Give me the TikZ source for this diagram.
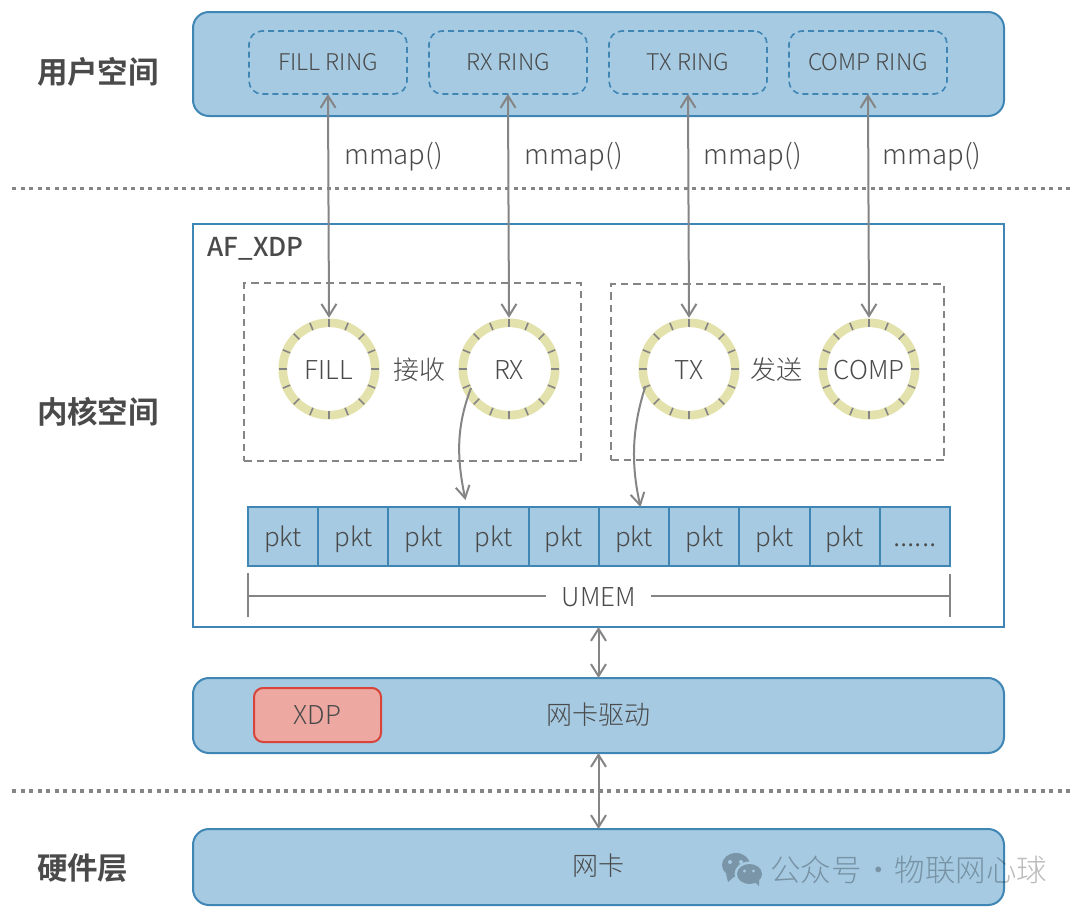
\documentclass[tikz,border=0pt]{standalone}
\usepackage{fontspec}
\setmainfont{Noto Sans CJK SC Light}[BoldFont={Noto Sans CJK SC Bold}]
\newfontfamily\mediumfont{Noto Sans CJK SC Medium}
\usetikzlibrary{arrows.meta,calc}
\definecolor{panel}{HTML}{A5CAE2}
\definecolor{edge}{HTML}{3F86B5}
\definecolor{ink}{HTML}{4A4A4A}
\definecolor{conn}{HTML}{858585}
\definecolor{ringc}{HTML}{E4E2AC}
\definecolor{xdpfill}{HTML}{EDA9A1}
\definecolor{xdpedge}{HTML}{D8433A}
\definecolor{wmicon}{HTML}{7A95A8}
\newcommand{\fs}[1]{\fontsize{#1}{#1}\selectfont}
\tikzset{
  x=1pt,y=-1pt,
  every node/.style={text=ink,font=\fs{26},inner sep=0pt,outer sep=0pt},
  panelbox/.style={draw=edge,fill=panel,line width=2pt,rounded corners=16pt,anchor=north west},
  ringbox/.style={draw=edge,line width=1.6pt,dash pattern=on 6pt off 4pt,rounded corners=13pt,minimum width=158pt,minimum height=63pt,font=\fs{23}},
  groupbox/.style={draw=conn,line width=1.8pt,dash pattern=on 7.5pt off 5pt,anchor=north west},
  ringnode/.style={circle,draw=ringc,line width=8.6pt,outer sep=5pt,minimum size=92.4pt,text height=21pt,text depth=0pt},
  cell/.style={draw=edge,fill=panel,line width=2pt,minimum width=70.2pt,minimum height=59pt,anchor=north west,text height=20pt,text depth=1pt},
  heading/.style={font=\fs{30.5}\bfseries,anchor=west},
  mmaplabel/.style={font=\fs{27.5}},
  dualarrow/.style={draw=conn,line width=2pt,{Straight Barb[length=12pt,width=15pt]}-{Straight Barb[length=12pt,width=15pt]}},
  onearrow/.style={draw=conn,line width=2pt,-{Straight Barb[length=12pt,width=14pt]}},
  sep/.style={draw=conn,line width=3.6pt,dash pattern=on 4pt off 4.5pt},
  tick/.style={draw=conn,line width=1.6pt},
  rule/.style={draw=conn,line width=1.8pt},
}
\newcommand{\ringticks}[1]{\foreach \a in {0,22.5,45,67.5,90,112.5,135,157.5,180,202.5,225,247.5,270,292.5,315,337.5}{\draw[tick] ($(#1)+(\a:42)$) -- ($(#1)+(\a:50)$);}}
\begin{document}
\begin{tikzpicture}
\useasboundingbox (0,0) rectangle (1080,913);
\fill[white] (0,0) rectangle (1080,913);
% separators
\coordinate (s1a) at (12,188.5); \coordinate (s1b) at (1070,188.5);
\coordinate (s2a) at (12,791); \coordinate (s2b) at (1070,791);
\draw[sep] (s1a) -- (s1b);
\draw[sep] (s2a) -- (s2b);
% panels
\node[panelbox,minimum width=811pt,minimum height=104pt] (user) at (193,12) {};
\node[draw=edge,line width=2pt,fill=white,anchor=north west,minimum width=811pt,minimum height=403pt] (kernel) at (193,224) {};
\node[panelbox,minimum width=811pt,minimum height=75pt] (driver) at (193,678) {};
\node[panelbox,minimum width=811pt,minimum height=76pt] (nic) at (193,829) {};
% headings
\node[heading] (h1) at (37,72) {用户空间};
\node[heading] (h2) at (37,412) {内核空间};
\node[heading] (h3) at (37,868) {硬件层};
\node[anchor=west,font=\fs{26}\mediumfont] (af) at (207.5,249) {AF\_XDP};
% rings in user space
\node[ringbox] (r1) at (328,62.5) {FILL RING};
\node[ringbox] (r2) at (508,62.5) {RX RING};
\node[ringbox] (r3) at (688,62.5) {TX RING};
\node[ringbox] (r4) at (868,62.5) {COMP RING};
% groups
\node[groupbox,minimum width=337pt,minimum height=178pt] (g1) at (244,283) {};
\node[groupbox,minimum width=333pt,minimum height=176pt] (g2) at (611,284) {};
% kernel rings
\node[ringnode] (c1) at (329,369) {FILL};
\node[ringnode] (c2) at (509,369) {RX};
\node[ringnode] (c3) at (689,369) {TX};
\node[ringnode] (c4) at (869,369) {COMP};
\ringticks{c1}\ringticks{c2}\ringticks{c3}\ringticks{c4}
\node (recv) at (419,370) {接收};
\node (send) at (776,370) {发送};
% mmap
\node[mmaplabel] (m1) at (393.5,157) {mmap()};
\node[mmaplabel] (m2) at (573.5,157) {mmap()};
\node[mmaplabel] (m3) at (752.5,157) {mmap()};
\node[mmaplabel] (m4) at (932,157) {mmap()};
% packets
\foreach \i in {0,...,8}{
  \node[cell] (p\i) at ({248+70.2*\i},507) {pkt};
}
\node[cell,font=\fs{29}] (p9) at ({248+70.2*9},507) {......};
% UMEM
\coordinate (ul) at (248,596); \coordinate (ur) at (950,596);
\coordinate (ula) at (546,596); \coordinate (ura) at (651,596);
\coordinate (ult) at (248,573); \coordinate (ulb) at (248,617);
\coordinate (urt) at (950,574); \coordinate (urb) at (950,617);
\node (umem) at (599,597) {UMEM};
\draw[rule] (ul) -- (ula);
\draw[rule] (ura) -- (ur);
\draw[rule] (ult) -- (ulb);
\draw[rule] (urt) -- (urb);
% driver
\node[draw=xdpedge,fill=xdpfill,line width=2pt,rounded corners=9pt,minimum width=127pt,minimum height=54pt] (xdp) at (317.5,715) {XDP};
\node (drv) at (598.5,715) {网卡驱动};
\node (nict) at (598.5,866) {网卡};
% connectors
\draw[dualarrow] (r1.south) -- (c1.north);
\draw[dualarrow] (r2.south) -- (c2.north);
\draw[dualarrow] (r3.south) -- (c3.north);
\draw[dualarrow] (r4.south) -- (c4.north);
\draw[dualarrow] (kernel.south -| drv) -- (driver.north -| drv);
\draw[dualarrow] (driver.south -| drv) -- (nic.north -| drv);
\coordinate (rxs) at (471,388); \coordinate (rxe) at (465.5,500);
\coordinate (txs) at (645.5,386); \coordinate (txe) at (640.5,507);
\draw[onearrow] (rxs) .. controls (457,425) and (456,455) .. (rxe);
\draw[onearrow] (txs) .. controls (633,425) and (630,460) .. (txe);
% watermark icon
\fill[wmicon] (736,865) ellipse (14 and 12);
\fill[wmicon] (726,874) -- (728,882) -- (735,876) -- cycle;
\fill[panel] (749.5,874) ellipse (15 and 12.5);
\fill[wmicon] (749.5,874) ellipse (12.5 and 10);
\fill[wmicon] (754,881) -- (759,886) -- (759,878) -- cycle;
\fill[panel] (730,862) circle (2); \fill[panel] (741,862) circle (2);
\fill[panel] (744.5,871) circle (1.7); \fill[panel] (753.5,871) circle (1.7);
% watermark text
\node[text=black,text opacity=.27,anchor=west,font=\fs{30.5}] (wm) at (770,870) {\spaceskip=1.5pt\relax 公众号 · 物联网心球};
\end{tikzpicture}
\end{document}
